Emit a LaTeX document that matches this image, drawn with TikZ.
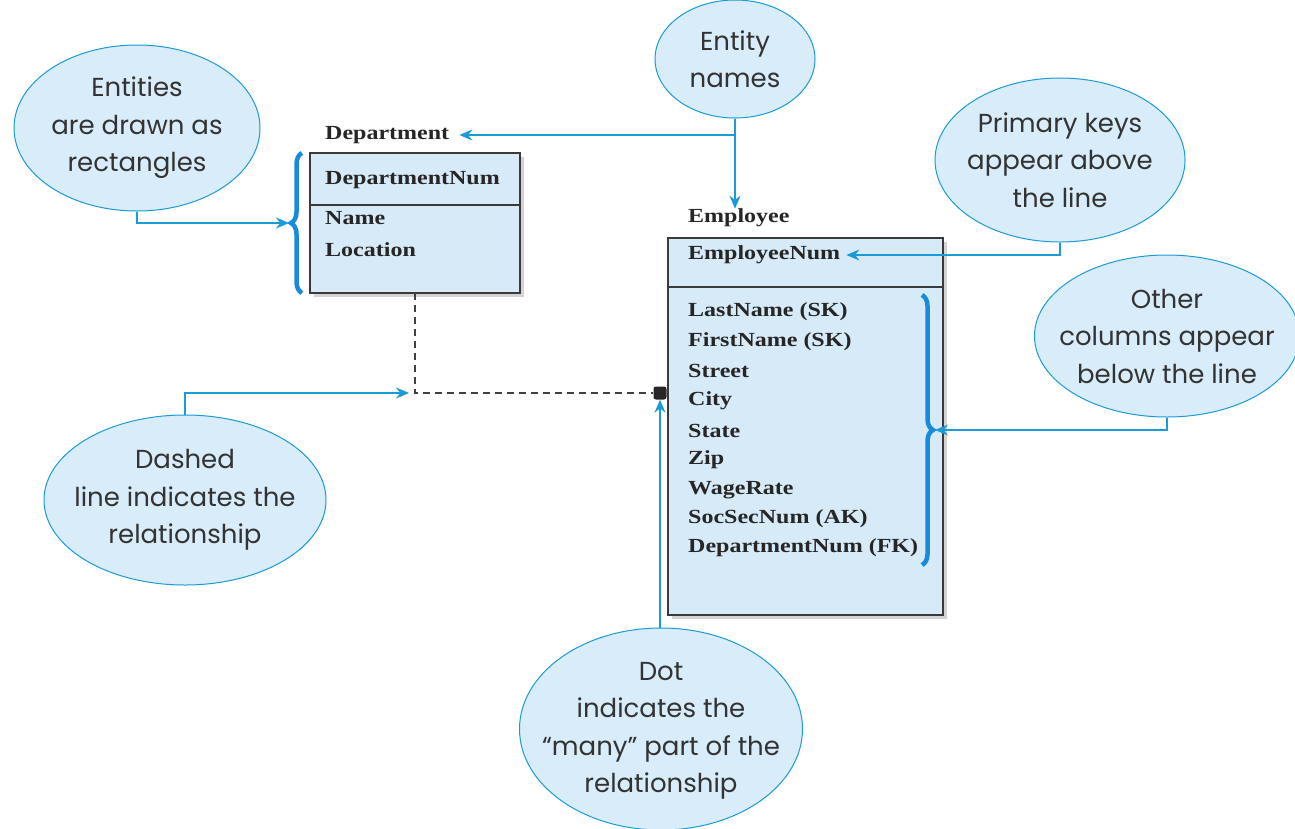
\documentclass[tikz,border=0pt]{standalone}
\usepackage{fontspec}
\usetikzlibrary{shapes.geometric,arrows.meta,decorations.pathreplacing,shadows,calc}
\newfontfamily\callfont{Poppins}
\newfontfamily\tabfont{Liberation Serif}[FakeStretch=1.2]
\definecolor{callblue}{HTML}{1A9AD6}
\definecolor{callfill}{HTML}{D8ECF9}
\definecolor{boxfill}{HTML}{D6EAF8}
\definecolor{boxline}{HTML}{3A3A3A}
\definecolor{calltext}{HTML}{333333}
\tikzset{
  callout/.style={ellipse, draw=callblue, line width=1pt, fill=callfill, inner sep=0pt},
  calltxt/.style={align=center, text=calltext, inner sep=0pt,
    font=\callfont\fontsize{26}{37.5}\selectfont},
  entbox/.style={draw=boxline, line width=1.2pt, fill=boxfill,
    drop shadow={opacity=0.35, shadow xshift=4pt, shadow yshift=-4pt}},
  field/.style={anchor=west, inner sep=0pt, font=\tabfont\bfseries\fontsize{20}{24}\selectfont, text=black!85},
  leader/.style={draw=callblue, line width=1.3pt, -{Stealth[length=13pt,width=11pt]}},
  bracestyle/.style={draw=callblue!90!blue, line width=4.5pt,
    decorate, decoration={brace, amplitude=11pt}},
  relline/.style={draw=black!75, line width=1.3pt, dash pattern=on 7pt off 5pt}
}
\begin{document}
\begin{tikzpicture}[x=1pt,y=-1pt]
\useasboundingbox (0,0) rectangle (1295,828);

% ---- callouts: outline first, text on top ----
\node[callout, minimum width=246pt, minimum height=166pt] (ent) at (137,128) {};
\node[calltxt] (enttxt) at (ent.center) {Entities\\are drawn as\\rectangles};
\node[callout, minimum width=160pt, minimum height=118pt] (names) at (735,59) {};
\node[calltxt] (namestxt) at (names.center) {Entity\\names};
\node[callout, minimum width=250pt, minimum height=164pt] (pk) at (1060,160) {};
\node[calltxt] (pktxt) at (pk.center) {Primary keys\\appear above\\the line};
\node[callout, minimum width=265pt, minimum height=162pt] (oc) at (1167,336) {};
\node[calltxt] (octxt) at (oc.center) {Other\\columns appear\\below the line};
\node[callout, minimum width=282pt, minimum height=170pt] (dsh) at (185,500) {};
\node[calltxt] (dshtxt) at (dsh.center) {Dashed\\line indicates the\\relationship};
\node[callout, minimum width=283pt, minimum height=202pt] (dotc) at (661,729) {};
\node[calltxt] (dotctxt) at ([yshift=-2pt]dotc.center) {Dot\\indicates the\\“many” part of the\\relationship};

% ---- Department entity ----
\node[field] (deplabel) at (325,135) {Department};
\path[entbox] (310,153) rectangle (520,293);
\coordinate (depbot) at (415,293);
\draw[boxline, line width=1.2pt] (310,205) -- (520,205);
\node[field] (depnum) at (325,180) {DepartmentNum};
\node[field] (depname) at (325,218) {Name};
\node[field] (deploc) at (325,250) {Location};

% ---- Employee entity ----
\node[field] (emplabel) at (688,218) {Employee};
\path[entbox] (668,238) rectangle (943,615);
\draw[boxline, line width=1.2pt] (668,287) -- (943,287);
\node[field] (empnum) at (688,255) {EmployeeNum};
\node[field] (f1) at (688,312) {LastName (SK)};
\node[field] (f2) at (688,342) {FirstName (SK)};
\node[field] (f3) at (688,371) {Street};
\node[field] (f4) at (688,401) {City};
\node[field] (f5) at (688,431) {State};
\node[field] (f6) at (688,460) {Zip};
\node[field] (f7) at (688,490) {WageRate};
\node[field] (f8) at (688,519) {SocSecNum (AK)};
\node[field] (f9) at (688,548) {DepartmentNum (FK)};

% ---- braces ----
\draw[bracestyle] (302,293) -- (302,153);
\coordinate (lbtip) at (289,223);
\draw[bracestyle] (922,295) -- (922,565);
\coordinate (rbtip) at (935,430);

% ---- relationship ----
\node[fill=black!85, rounded corners=2.5pt, minimum size=13pt, inner sep=0pt] (dot) at (660,393) {};
\coordinate (bend) at (415,393);
\draw[relline] (depbot) -- (bend) -- (dot.west);

% ---- leaders ----
\coordinate (namesplit) at (735,135);
\draw[leader] (ent.south) |- (lbtip);
\draw[leader] (names.south) -- (emplabel.north -| names.south);
\draw[leader] (namesplit) -- ([xshift=10pt]deplabel.east);
\draw[leader] (pk.south) |- ([xshift=6pt]empnum.east);
\draw[leader] (oc.south) |- (rbtip);
\draw[leader] (dsh.north) |- ([xshift=-6pt]bend);
\draw[leader] (dotc.north -| dot.south) -- (dot.south);
\end{tikzpicture}
\end{document}
